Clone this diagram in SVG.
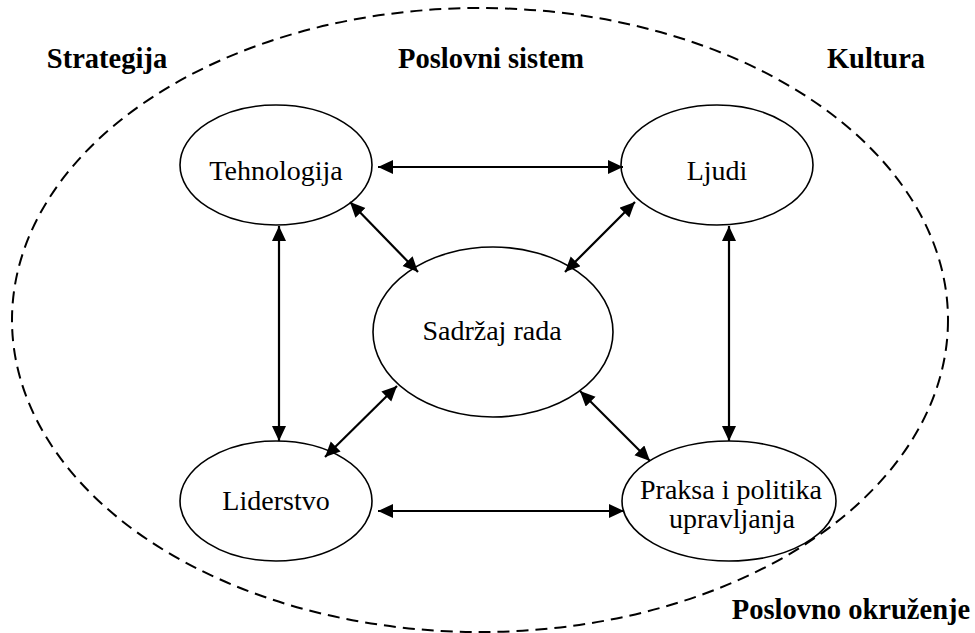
<svg xmlns="http://www.w3.org/2000/svg" width="975" height="633" viewBox="0 0 975 633">
<style>
.node{fill:none;stroke:#000;stroke-width:1.6}
.t{font-family:"Liberation Serif","Times New Roman",serif;font-size:28px;fill:#000;text-anchor:middle}
.b{font-family:"Liberation Serif","Times New Roman",serif;font-size:28.5px;font-weight:bold;fill:#000;text-anchor:middle}
.c{stroke:#000;stroke-width:2.2;fill:none;marker-start:url(#ah);marker-end:url(#ah)}
</style>
<defs>
<marker id="ah" markerUnits="userSpaceOnUse" markerWidth="16" markerHeight="15" refX="15" refY="7" orient="auto-start-reverse">
<path d="M0,0 L15,7 L0,14 z" fill="#000"/>
</marker>
</defs>
<g id="env">
<ellipse cx="480" cy="320" rx="468" ry="312" fill="none" stroke="#000" stroke-width="2" stroke-dasharray="12 7"/>
</g>
<g id="labels">
<text class="b" x="107" y="68">Strategija</text>
<text class="b" x="491" y="68">Poslovni sistem</text>
<text class="b" x="876" y="68">Kultura</text>
<text class="b" x="851" y="619">Poslovno okruženje</text>
</g>
<g id="tehnologija">
<ellipse class="node" cx="276" cy="165" rx="96" ry="60"/>
<text class="t" x="276" y="180">Tehnologija</text>
</g>
<g id="ljudi">
<ellipse class="node" cx="717" cy="165" rx="96" ry="60"/>
<text class="t" x="717" y="180">Ljudi</text>
</g>
<g id="sadrzaj">
<ellipse class="node" cx="493" cy="332" rx="120" ry="85"/>
<text class="t" x="492" y="340">Sadržaj rada</text>
</g>
<g id="liderstvo">
<ellipse class="node" cx="276" cy="501" rx="96" ry="60"/>
<text class="t" x="276" y="510">Liderstvo</text>
</g>
<g id="praksa">
<ellipse class="node" cx="729" cy="501" rx="107" ry="60"/>
<text class="t" x="731" y="499">Praksa i politika</text>
<text class="t" x="732" y="528">upravljanja</text>
</g>
<g id="connectors">
<line class="c" x1="378" y1="167" x2="623" y2="167"/>
<line class="c" x1="378" y1="511" x2="624" y2="511"/>
<line class="c" x1="279" y1="226" x2="279" y2="441"/>
<line class="c" x1="729" y1="226" x2="729" y2="441"/>
<line class="c" x1="350" y1="202" x2="418" y2="272"/>
<line class="c" x1="635" y1="202" x2="565" y2="272"/>
<line class="c" x1="397" y1="386" x2="325" y2="457"/>
<line class="c" x1="580" y1="391" x2="650" y2="461"/>
</g>
</svg>
